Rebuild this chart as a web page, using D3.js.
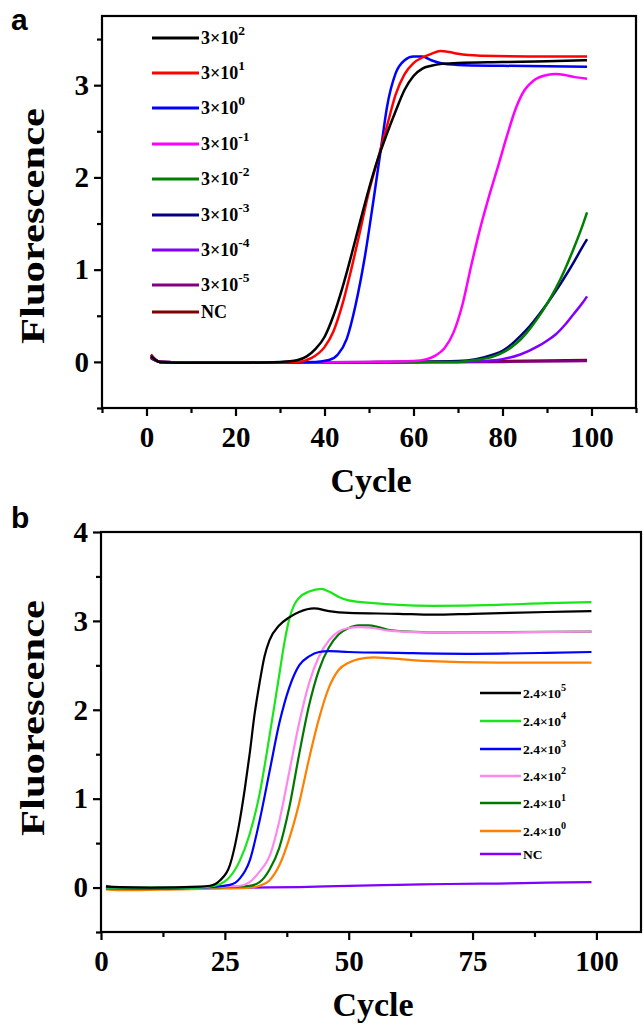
<!DOCTYPE html>
<html>
<head>
<meta charset="utf-8">
<script src="https://cdn.jsdelivr.net/npm/d3@7"></script>
<style>
  body { margin: 0; background: #fff; }
</style>
</head>
<body>
<svg id="chart" width="644" height="1026" font-family="Liberation Serif" font-weight="bold"></svg>
<script>
// ---- panel a data : [cycle, fluorescence]
var aNames = ["3×10|2", "3×10|1", "3×10|0", "3×10|-1", "3×10|-2", "3×10|-3", "3×10|-4", "3×10|-5", "NC"];
var aColors = ["#000000", "#ff0000", "#0000ff", "#ff00ff", "#008000", "#000080", "#8000ff", "#800080", "#800000"];
var a_3e2 = [[1,0.06],[3,0],[10,-0.01],[20,-0.01],[30,0],[34,0.02],[36,0.06],[38,0.14],[40,0.27],[42,0.5],[44,0.8],[46,1.15],[48,1.52],[50,1.88],[52,2.2],[54,2.47],[56,2.72],[58,2.95],[60,3.1],[62,3.18],[64,3.21],[66,3.23],[70,3.24],[80,3.25],[90,3.26],[99,3.27]];
var a_3e1 = [[1,0.05],[3,0],[20,-0.01],[34,0],[37,0.04],[40,0.16],[42,0.33],[44,0.62],[46,1.0],[48,1.42],[50,1.85],[52,2.2],[54,2.55],[56,2.9],[58,3.12],[60,3.24],[62,3.3],[64,3.34],[66,3.37],[68,3.36],[70,3.34],[75,3.32],[90,3.31],[99,3.31]];
var a_3e0 = [[1,0.04],[3,0],[20,-0.01],[38,0],[41,0.02],[43,0.08],[45,0.25],[47,0.62],[49,1.12],[51,1.75],[53,2.42],[54,2.75],[56,3.13],[58,3.27],[60,3.31],[62,3.31],[64,3.27],[66,3.24],[70,3.22],[80,3.21],[99,3.2]];
var a_3em1 = [[1,0.05],[3,0],[20,-0.01],[50,0],[60,0.01],[63,0.03],[65,0.07],[67,0.15],[69,0.32],[71,0.62],[73,1.05],[75,1.45],[77,1.8],[79,2.12],[81,2.45],[83,2.75],[85,2.95],[87,3.05],[90,3.11],[92,3.12],[94,3.11],[96,3.09],[99,3.07]];
var a_3em2 = [[1,0.05],[3,0],[20,-0.01],[60,0],[70,0],[74,0.02],[78,0.06],[80,0.1],[82,0.16],[84,0.24],[86,0.35],[88,0.48],[90,0.63],[92,0.8],[94,1.0],[96,1.23],[98,1.48],[99,1.62]];
var a_3em3 = [[1,0.05],[3,0],[20,-0.01],[60,0],[70,0.01],[74,0.03],[78,0.08],[80,0.12],[82,0.19],[84,0.28],[86,0.38],[88,0.5],[90,0.63],[92,0.77],[94,0.92],[96,1.08],[98,1.25],[99,1.33]];
var a_3em4 = [[1,0.05],[3,0],[20,-0.01],[60,0],[70,0],[76,0.01],[80,0.03],[84,0.08],[88,0.17],[90,0.23],[92,0.3],[94,0.4],[96,0.52],[98,0.64],[99,0.71]];
var a_3em5 = [[1,0.07],[3,0],[20,-0.01],[50,-0.005],[80,0],[99,0.01]];
var a_nc = [[1,0.08],[3,0],[20,-0.01],[50,-0.005],[80,0.01],[99,0.02]];
var aSeries = [a_3e2, a_3e1, a_3e0, a_3em1, a_3em2, a_3em3, a_3em4, a_3em5, a_nc];
var aXTicks = [0, 20, 40, 60, 80, 100];
var aYTicks = [0, 1, 2, 3];

// ---- panel b data
var bNames = ["2.4×10|5", "2.4×10|4", "2.4×10|3", "2.4×10|2", "2.4×10|1", "2.4×10|0", "NC"];
var bColors = ["#000000", "#19e619", "#0000ff", "#ff88ee", "#007800", "#ff7f00", "#8000ff"];
var b_24e5 = [[1,0.01],[10,0],[20,0.01],[22,0.02],[24,0.08],[26,0.25],[28,0.75],[29,1.1],[30,1.5],[31,1.95],[32,2.3],[33,2.6],[34,2.78],[36,2.95],[38,3.04],[40,3.1],[43,3.14],[46,3.11],[50,3.09],[60,3.08],[67,3.07],[75,3.08],[90,3.1],[99,3.11]];
var b_24e4 = [[1,0],[10,0],[20,0],[23,0.02],[25,0.07],[26,0.12],[28,0.3],[30,0.6],[32,1.05],[34,1.7],[36,2.4],[37,2.75],[38,3.02],[39,3.18],[40,3.26],[42,3.33],[44.5,3.36],[46,3.33],[48,3.27],[50,3.23],[55,3.2],[60,3.18],[67,3.17],[80,3.18],[90,3.2],[99,3.21]];
var b_24e3 = [[1,0],[10,-0.01],[20,0],[26,0.03],[28,0.1],[30,0.3],[32,0.75],[34,1.3],[36,1.85],[38,2.25],[40,2.5],[42,2.6],[44,2.65],[46,2.66],[50,2.65],[60,2.64],[75,2.63],[90,2.64],[99,2.65]];
var b_24e2 = [[1,0],[10,-0.01],[20,0],[28,0.02],[30,0.06],[32,0.18],[34,0.35],[36,0.75],[38,1.3],[40,1.85],[42,2.3],[44,2.6],[46,2.78],[48,2.88],[50,2.92],[52,2.93],[55,2.92],[58,2.89],[65,2.87],[80,2.87],[99,2.88]];
var b_24e1 = [[1,-0.01],[10,-0.01],[20,0],[30,0.02],[32,0.06],[34,0.2],[36,0.45],[38,0.9],[40,1.5],[42,2.05],[44,2.45],[46,2.7],[48,2.85],[50,2.92],[52,2.95],[54,2.95],[56,2.93],[58,2.9],[62,2.88],[70,2.87],[99,2.88]];
var b_24e0 = [[1,-0.02],[5,-0.03],[15,-0.02],[25,-0.01],[30,0],[32,0.02],[34,0.08],[36,0.25],[38,0.55],[40,0.95],[42,1.45],[44,1.9],[46,2.25],[48,2.45],[50,2.53],[52,2.57],[55,2.59],[58,2.58],[65,2.55],[80,2.53],[99,2.53]];
var b_nc = [[1,0.02],[3,0],[10,-0.005],[30,0],[40,0.005],[50,0.02],[60,0.03],[70,0.04],[80,0.045],[90,0.055],[99,0.06]];
var bSeries = [b_24e5, b_24e4, b_24e3, b_24e2, b_24e1, b_24e0, b_nc];
var bXTicks = [0, 25, 50, 75, 100];
var bYTicks = [0, 1, 2, 3, 4];

var svg = d3.select("#chart");

function drawPanel(p) {
	var x = d3.scaleLinear().domain(p.xDomain).range([p.left, p.right]);
	var y = d3.scaleLinear().domain(p.yDomain).range([p.bottom, p.top]);
	var g = svg.append("g");

	// frame
	g.append("rect")
		.attr("x", p.left).attr("y", p.top)
		.attr("width", p.right - p.left).attr("height", p.bottom - p.top)
		.attr("fill", "none").attr("stroke", "#000").attr("stroke-width", 2.2);

	// axes (major + minor, outward)
	var fmt = d3.format("d");
	var xMaj = d3.axisBottom(x).tickValues(p.xTicks).tickSize(8).tickPadding(10).tickFormat(fmt);
	var xMin = d3.axisBottom(x).tickValues(p.xMinor).tickSize(5).tickFormat("");
	var yMaj = d3.axisLeft(y).tickValues(p.yTicks).tickSize(8).tickPadding(5).tickFormat(fmt);
	var yMin = d3.axisLeft(y).tickValues(p.yMinor).tickSize(5).tickFormat("");

	[[xMaj, "x"], [xMin, "x"], [yMaj, "y"], [yMin, "y"]].forEach(function(a) {
		var ax = g.append("g")
			.attr("transform", a[1] == "x" ? "translate(0," + p.bottom + ")" : "translate(" + p.left + ",0)")
			.call(a[0]);
		ax.select(".domain").remove();
		ax.selectAll("line").attr("stroke-width", 2.2);
		ax.selectAll("text").attr("font-size", 29).attr("fill", "#000")
			.attr("font-family", "Liberation Serif").attr("font-weight", "bold");
	});

	// curves
	var line = d3.line()
		.x(function(d) { return x(d[0]); })
		.y(function(d) { return y(d[1]); })
		.curve(d3.curveMonotoneX);

	for (var i = p.series.length - 1; i >= 0; i--) {
		g.append("path")
			.datum(p.series[i])
			.attr("fill", "none")
			.attr("stroke", p.colors[i])
			.attr("stroke-width", p.lineW)
			.attr("d", line);
	}

	// legend
	p.names.forEach(function(n, i) {
		var ly = p.legY[i];
		g.append("line")
			.attr("x1", p.legX).attr("x2", p.legX + p.legLen)
			.attr("y1", ly).attr("y2", ly)
			.attr("stroke", p.colors[i]).attr("stroke-width", p.lineW + 0.5);
		var t = g.append("text")
			.attr("x", p.legX + p.legLen + 2).attr("y", ly + p.legFont * 0.36)
			.attr("font-size", p.legFont);
		var parts = n.split("|");
		t.append("tspan").text(parts[0]);
		if (parts.length > 1) {
			t.append("tspan").attr("dy", -p.legFont * 0.5)
				.attr("font-size", p.legFont * 0.75).text(parts[1]);
		}
	});

	// axis titles
	g.append("text")
		.attr("x", (p.left + p.right) / 2 + 2).attr("y", p.bottom + 84)
		.attr("text-anchor", "middle").attr("font-size", 34).text("Cycle");
	g.append("text")
		.attr("transform", "translate(" + 44 + "," + p.yTitleY + ") rotate(-90)")
		.attr("text-anchor", "middle").attr("font-size", 34)
		.attr("textLength", 236).attr("lengthAdjust", "spacingAndGlyphs")
		.text("Fluorescence");

	// panel letter
	g.append("text")
		.attr("x", 11).attr("y", p.top + p.letterDy)
		.attr("font-family", "Liberation Sans").attr("font-size", 30).text(p.letter);
}

drawPanel({
	letter: "a", letterDy: 14,
	left: 102, right: 636, top: 16, bottom: 408,
	xDomain: [-10, 110], yDomain: [-0.5, 3.75],
	xTicks: aXTicks, xMinor: [-10, 10, 30, 50, 70, 90, 110],
	yTicks: aYTicks, yMinor: [-0.5, 0.5, 1.5, 2.5, 3.5],
	series: aSeries, colors: aColors, names: aNames,
	lineW: 2.5,
	legX: 152, legLen: 47, legFont: 18,
	legY: [38, 73, 108, 144, 179, 215, 250, 285, 312],
	yTitleY: 226
});

drawPanel({
	letter: "b", letterDy: -4,
	left: 101, right: 641, top: 532, bottom: 932,
	xDomain: [0, 109], yDomain: [-0.5, 4],
	xTicks: bXTicks, xMinor: [12.5, 37.5, 62.5, 87.5],
	yTicks: bYTicks, yMinor: [-0.5, 0.5, 1.5, 2.5, 3.5],
	series: bSeries, colors: bColors, names: bNames,
	lineW: 2.2,
	legX: 480, legLen: 41, legFont: 13.5,
	legY: [693, 721, 749, 776, 803, 831, 854],
	yTitleY: 718
});
</script>
</body>
</html>
